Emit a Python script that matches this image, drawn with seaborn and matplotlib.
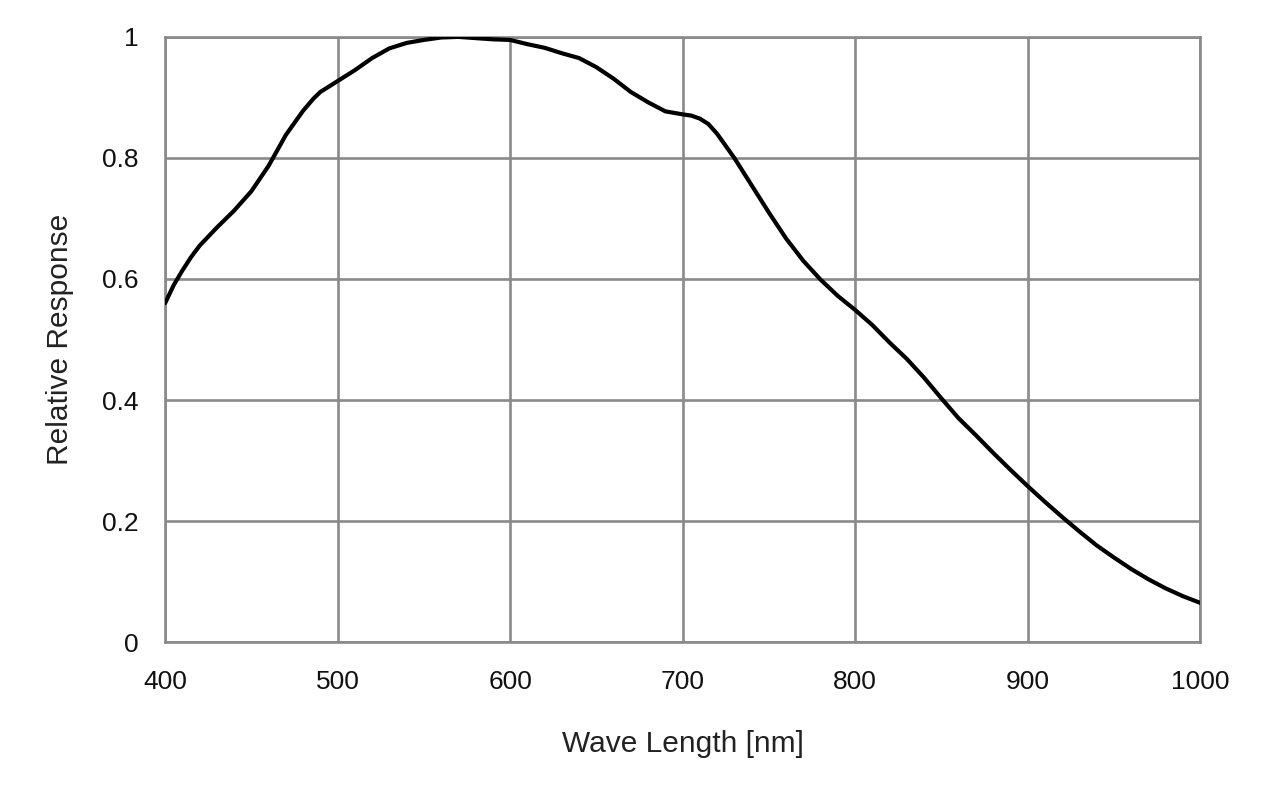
#!/usr/bin/env python3

# Import libraries
import numpy as np
import pandas as pd
import matplotlib
matplotlib.use("Agg")
import matplotlib.pyplot as plt
import seaborn as sns

# (wavelength in nm, relative response)
wavelength = [400, 405, 410, 415, 420, 430, 440, 450, 460, 470, 480, 486, 490,
              500, 510, 520, 530, 540, 550, 560, 570, 580, 590, 600, 610,
              620, 630, 640, 650, 660, 670, 680, 690, 700, 705, 710, 715, 720,
              730, 740, 750, 760, 770, 780, 790, 800, 810, 820, 830, 840,
              850, 860, 870, 880, 890, 900, 910, 920, 930, 940, 950, 960,
              970, 980, 990, 1000]
response = [0.560, 0.590, 0.614, 0.636, 0.655, 0.685, 0.713, 0.745, 0.787, 0.838, 0.878, 0.898, 0.909,
            0.927, 0.945, 0.965, 0.981, 0.990, 0.995, 0.999, 1.000, 0.998, 0.996, 0.995, 0.988,
            0.982, 0.973, 0.965, 0.950, 0.931, 0.909, 0.892, 0.877, 0.872, 0.870, 0.865, 0.856, 0.840,
            0.800, 0.755, 0.710, 0.667, 0.630, 0.599, 0.572, 0.549, 0.524, 0.495, 0.468, 0.437,
            0.403, 0.370, 0.342, 0.313, 0.285, 0.258, 0.232, 0.207, 0.183, 0.160, 0.140, 0.121,
            0.104, 0.089, 0.076, 0.065]

xticks = [400, 500, 600, 700, 800, 900, 1000]
yticks = [0, 0.2, 0.4, 0.6, 0.8, 1]
ytick_labels = ["0", "0.2", "0.4", "0.6", "0.8", "1"]

df = pd.DataFrame({"wavelength": wavelength, "response": response})

sns.set_style("white")
plt.rcParams['font.family'] = ['Liberation Sans', 'DejaVu Sans']

fig = plt.figure(figsize=(12.8, 7.85), dpi=100)
ax = fig.add_axes([0.129, 0.182, 0.8085, 0.771])

sns.lineplot(data=df, x="wavelength", y="response", ax=ax,
             color="black", linewidth=3.0, zorder=3)

ax.set_xlim(400, 1000)
ax.set_ylim(0, 1)
ax.set_xticks(xticks)
ax.set_yticks(yticks)
ax.set_yticklabels(ytick_labels)
ax.grid(True, color="#8a8a8a", linewidth=1.9)
for s in ax.spines.values():
    s.set_visible(True)
    s.set_color("#8a8a8a")
    s.set_linewidth(1.9)
ax.tick_params(axis="both", length=0, labelsize=19, colors="#111111")
ax.tick_params(axis="x", pad=20)
ax.tick_params(axis="y", pad=19)
ax.set_xlabel("Wave Length [nm]", fontsize=21.5, labelpad=26, color="#222222")
ax.set_ylabel("Relative Response", fontsize=21.5, labelpad=20, color="#222222")

fig.savefig("out.png", dpi=100)
